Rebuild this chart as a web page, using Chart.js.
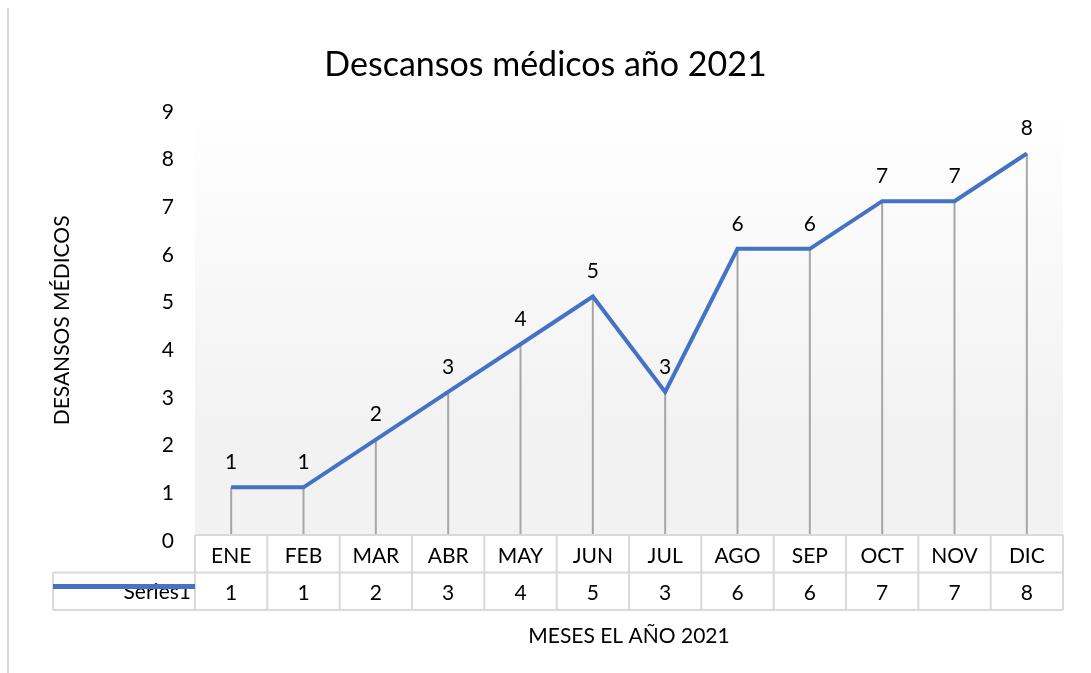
<!DOCTYPE html>
<html>
<head>
<meta charset="utf-8">
<script src="https://cdn.jsdelivr.net/npm/chart.js@4"></script>
<style>
html, body { margin: 0; padding: 0; background: #fff; }
</style>
</head>
<body>
<canvas id="lineChart" width="1091" height="673"></canvas>
<script>
const months = ['ENE', 'FEB', 'MAR', 'ABR', 'MAY', 'JUN', 'JUL', 'AGO', 'SEP', 'OCT', 'NOV', 'DIC'];
const restDays = [1, 1, 2, 3, 4, 5, 3, 6, 6, 7, 7, 8];
const yMin = 0;
const yMax = 9;
const seriesName = 'Series1';

const FONT = 'Lato, Carlito, Calibri, "Open Sans", sans-serif';
const BLUE = '#4472c4';
const GRID = '#d9d9d9';

// fondo, lineas verticales, etiquetas y tabla de datos al estilo Excel
const excelLook = {
    id: 'excelLook',
    beforeDraw(chart) {
        const { ctx, chartArea: a } = chart;
        const g = ctx.createLinearGradient(0, a.top, 0, a.bottom);
        g.addColorStop(0, '#ffffff');
        g.addColorStop(0.75, '#f2f2f2');
        g.addColorStop(1, '#f2f2f2');
        ctx.save();
        ctx.fillStyle = g;
        ctx.fillRect(a.left, a.top, a.right - a.left, a.bottom - a.top);
        // borde gris a la izquierda
        ctx.strokeStyle = GRID;
        ctx.lineWidth = 2;
        ctx.beginPath();
        ctx.moveTo(8, 8);
        ctx.lineTo(8, chart.height);
        ctx.stroke();
        ctx.restore();
    },
    beforeDatasetsDraw(chart) {
        const { ctx, chartArea: a } = chart;
        const meta = chart.getDatasetMeta(0);
        ctx.save();
        ctx.strokeStyle = '#a6a6a6';
        ctx.lineWidth = 2;
        meta.data.forEach(p => {
            ctx.beginPath();
            ctx.moveTo(p.x, p.y);
            ctx.lineTo(p.x, a.bottom);
            ctx.stroke();
        });
        ctx.restore();
    },
    afterDatasetsDraw(chart) {
        const { ctx } = chart;
        const meta = chart.getDatasetMeta(0);
        ctx.save();
        ctx.fillStyle = '#000';
        ctx.font = '21px ' + FONT;
        ctx.textAlign = 'center';
        ctx.textBaseline = 'middle';
        meta.data.forEach((p, i) => {
            ctx.fillText(restDays[i], p.x, p.y - 25);
        });
        ctx.restore();
    },
    afterDraw(chart) {
        const { ctx, chartArea: a } = chart;
        const x = chart.scales.x;
        const half = (a.right - a.left) / months.length / 2;
        const rowH = 37.5;
        const top = a.bottom;
        const mid = top + rowH;
        const bot = mid + rowH;
        const legendLeft = 53;

        ctx.save();
        ctx.strokeStyle = GRID;
        ctx.lineWidth = 2;
        ctx.beginPath();
        // horizontales
        ctx.moveTo(a.left, top); ctx.lineTo(a.right, top);
        ctx.moveTo(legendLeft, mid); ctx.lineTo(a.right, mid);
        ctx.moveTo(legendLeft, bot); ctx.lineTo(a.right, bot);
        // verticales
        ctx.moveTo(legendLeft, mid); ctx.lineTo(legendLeft, bot);
        for (let i = 0; i <= months.length; i++) {
            const cx = i < months.length ? x.getPixelForValue(i) - half : x.getPixelForValue(i - 1) + half;
            ctx.moveTo(cx, top); ctx.lineTo(cx, bot);
        }
        ctx.stroke();

        ctx.fillStyle = '#000';
        ctx.font = '21px ' + FONT;
        ctx.textAlign = 'center';
        ctx.textBaseline = 'middle';
        months.forEach((m, i) => {
            const cx = x.getPixelForValue(i);
            ctx.fillText(m, cx, (top + mid) / 2 + 2);
            ctx.fillText(restDays[i], cx, (mid + bot) / 2 + 2);
        });

        // leyenda de la serie
        ctx.textAlign = 'right';
        ctx.fillText(seriesName, a.left - 4, (mid + bot) / 2 + 1);
        ctx.strokeStyle = BLUE;
        ctx.lineWidth = 5;
        ctx.beginPath();
        ctx.moveTo(legendLeft, mid + 14);
        ctx.lineTo(a.left, mid + 14);
        ctx.stroke();
        ctx.restore();
    }
};

const ctx = document.getElementById('lineChart').getContext('2d');
const lineChart = new Chart(ctx, {
    type: 'line',
    data: {
        labels: months,
        datasets: [{
            label: seriesName,
            data: restDays,
            borderColor: BLUE,
            borderWidth: 4,
            pointRadius: 0,
            tension: 0,
            fill: false,
        }],
    },
    options: {
        responsive: false,
        animation: false,
        layout: { padding: { left: 28, right: 28 } },
        plugins: {
            legend: { display: false },
            tooltip: { enabled: false },
            title: {
                display: true,
                text: 'Descansos médicos año 2021',
                color: '#000',
                font: { family: FONT, size: 34, weight: 'normal' },
                padding: { top: 45, bottom: 20 },
            },
        },
        scales: {
            x: {
                offset: true,
                grid: { display: false },
                border: { display: false },
                ticks: { display: false },
                title: {
                    display: true,
                    text: 'MESES EL AÑO 2021',
                    color: '#000',
                    font: { family: FONT, size: 21 },
                    padding: { top: 0, bottom: 24 },
                },
                afterFit(scale) { scale.height = 138; },
            },
            y: {
                min: yMin,
                max: yMax,
                grid: { display: false },
                border: { display: false },
                ticks: {
                    stepSize: 1,
                    color: '#000',
                    font: { family: FONT, size: 21 },
                    padding: 13,
                    labelOffset: 6,
                },
                title: {
                    display: true,
                    text: 'DESANSOS MÉDICOS',
                    color: '#000',
                    font: { family: FONT, size: 21 },
                    padding: { top: 22, bottom: 0 },
                },
                afterFit(scale) { scale.width = 167; },
            },
        },
    },
    plugins: [excelLook],
});
</script>
</body>
</html>
